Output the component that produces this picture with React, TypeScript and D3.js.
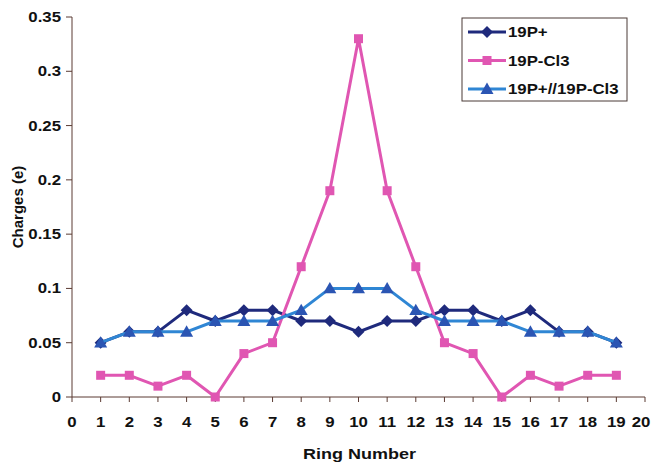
import React from "react";
import * as d3 from "d3";

const rings = d3.range(1, 20);
const s19P = [0.05, 0.06, 0.06, 0.08, 0.07, 0.08, 0.08, 0.07, 0.07, 0.06, 0.07, 0.07, 0.08, 0.08, 0.07, 0.08, 0.06, 0.06, 0.05];
const s19PCl3 = [0.02, 0.02, 0.01, 0.02, 0, 0.04, 0.05, 0.12, 0.19, 0.33, 0.19, 0.12, 0.05, 0.04, 0, 0.02, 0.01, 0.02, 0.02];
const s19PBoth = [0.05, 0.06, 0.06, 0.06, 0.07, 0.07, 0.07, 0.08, 0.1, 0.1, 0.1, 0.08, 0.07, 0.07, 0.07, 0.06, 0.06, 0.06, 0.05];
const xTicks = d3.range(0, 21);
const yTicks = [0, 0.05, 0.1, 0.15, 0.2, 0.25, 0.3, 0.35];
const seriesNames = ["19P+", "19P-Cl3", "19P+//19P-Cl3"];

const W = 653, H = 462;
const L = 72, R = 645, T = 17, B = 397;
const font = "'Liberation Sans', Arial, sans-serif";
const axisColor = "#5b3b33";
const SX = 1.2;

const series = [
  { name: seriesNames[0], values: s19P, line: "#1f2a7c", fill: "#1f2a7c", marker: "diamond" },
  { name: seriesNames[1], values: s19PCl3, line: "#e056b2", fill: "#e056b2", marker: "square" },
  { name: seriesNames[2], values: s19PBoth, line: "#2f86d4", fill: "#2b55b3", marker: "triangle" },
];

function Marker({ type, x, y, fill }: { type: string; x: number; y: number; fill: string }) {
  if (type === "diamond") {
    const r = 6;
    return <path d={`M${x},${y - r}L${x + r},${y}L${x},${y + r}L${x - r},${y}Z`} fill={fill} />;
  }
  if (type === "square") {
    const r = 4.5;
    return <rect x={x - r} y={y - r} width={2 * r} height={2 * r} fill={fill} />;
  }
  const r = 6.5;
  return <path d={`M${x},${y - r}L${x + r},${y + r * 0.75}L${x - r},${y + r * 0.75}Z`} fill={fill} />;
}

function HText({ x, y, anchor, size, children, dy }: { x: number; y: number; anchor?: string; size: number; children: any; dy?: string }) {
  return (
    <text
      transform={`translate(${x},${y}) scale(${SX},1)`}
      dy={dy}
      textAnchor={anchor || "start"}
      fontFamily={font}
      fontWeight="bold"
      fontSize={size}
      fill="#111"
    >
      {children}
    </text>
  );
}

export default function App() {
  const x = d3.scaleLinear().domain([0, 20]).range([L, R]);
  const y = d3.scaleLinear().domain([0, 0.35]).range([B, T]);
  const line = d3.line<number>().x((_, i) => x(rings[i])).y((d) => y(d));

  return (
    <svg width={W} height={H} style={{ position: "absolute", left: 0, top: 0, background: "#fff" }}>
      {/* axes */}
      <line x1={L} y1={T} x2={L} y2={B} stroke={axisColor} strokeWidth={1} />
      <line x1={L} y1={B} x2={R} y2={B} stroke={axisColor} strokeWidth={1} />
      {yTicks.map((t) => (
        <g key={"y" + t}>
          <line x1={L - 6} x2={L} y1={y(t)} y2={y(t)} stroke={axisColor} />
          <HText x={61} y={y(t)} dy="0.36em" anchor="end" size={14}>
            {t}
          </HText>
        </g>
      ))}
      {xTicks.map((t) => (
        <g key={"x" + t}>
          <line x1={x(t)} x2={x(t)} y1={B} y2={B + 5} stroke={axisColor} />
          <HText x={Math.min(x(t), 641)} y={B + 30} anchor="middle" size={14}>
            {t}
          </HText>
        </g>
      ))}
      <HText x={(L + R) / 2 + 1} y={459} anchor="middle" size={15}>
        Ring Number
      </HText>
      <text transform={`translate(23,${(T + B) / 2}) rotate(-90)`} textAnchor="middle" fontFamily={font} fontWeight="bold" fontSize={15} fill="#111">
        Charges (e)
      </text>

      {/* series */}
      {series.map((s) => (
        <g key={s.name}>
          <path d={line(s.values) || ""} fill="none" stroke={s.line} strokeWidth={3} strokeLinejoin="round" />
          {s.values.map((v, i) => (
            <Marker key={i} type={s.marker} x={x(rings[i])} y={y(v)} fill={s.fill} />
          ))}
        </g>
      ))}

      {/* legend */}
      <rect x={462} y={18} width={165} height={83} fill="#fff" stroke="#4a3a36" strokeWidth={1} />
      {series.map((s, i) => {
        const ly = 32 + i * 28.5;
        return (
          <g key={"l" + s.name}>
            <line x1={468} x2={506} y1={ly} y2={ly} stroke={s.line} strokeWidth={3} />
            <Marker type={s.marker} x={487} y={ly} fill={s.fill} />
            <HText x={508} y={ly} dy="0.36em" size={14}>
              {s.name}
            </HText>
          </g>
        );
      })}
    </svg>
  );
}
